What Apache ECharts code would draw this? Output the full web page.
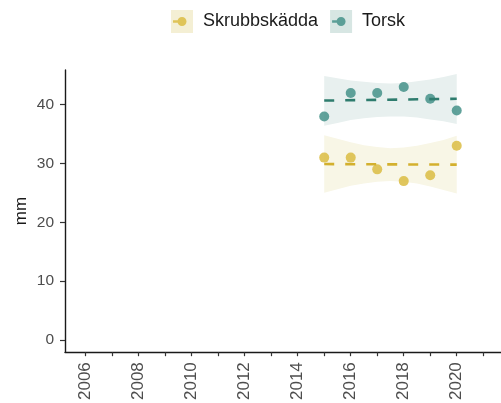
<!DOCTYPE html>
<html>
<head>
<meta charset="utf-8">
<script src="https://cdn.jsdelivr.net/npm/echarts@6/dist/echarts.min.js"></script>
<style>
  html, body { margin: 0; padding: 0; background: #fff; }
  #chart { width: 501px; height: 403px; }
</style>
</head>
<body>
<div id="chart"></div>
<script>
// observed yearly means
var years = [2015, 2016, 2017, 2018, 2019, 2020];
var torsk = [38, 42, 42, 43, 41, 39];
var skrubb = [31, 31, 29, 27, 28, 33];

// fitted trend (dashed), read at the two ends
var trendYears = [2015, 2020];
var torskTrend = [40.7, 41.0];
var skrubbTrend = [29.9, 29.8];

// confidence ribbons, read every half year
var bandYears = [2015, 2015.5, 2016, 2016.5, 2017, 2017.5, 2018, 2018.5, 2019, 2019.5, 2020];
var torskUpper = [44.9, 44.5, 44.1, 43.9, 43.7, 43.6, 43.7, 44.0, 44.3, 44.7, 45.2];
var torskLower = [36.4, 36.9, 37.4, 37.7, 37.9, 38.0, 38.0, 37.8, 37.5, 37.2, 36.7];
var skrubbUpper = [34.8, 34.2, 33.6, 33.1, 32.8, 32.6, 32.7, 33.0, 33.5, 34.0, 34.7];
var skrubbLower = [25.0, 25.6, 26.2, 26.6, 26.9, 27.0, 26.9, 26.6, 26.1, 25.5, 24.9];

// axis ticks / labels
var xTicks = [2006, 2007, 2008, 2009, 2010, 2011, 2012, 2013, 2014, 2015, 2016, 2017, 2018, 2019, 2020, 2021];
var xLabels = [2006, 2008, 2010, 2012, 2014, 2016, 2018, 2020];
var yTicks = [0, 10, 20, 30, 40];

var colors = {
  torsk: '#45928a', torskLine: '#2e7c6e', torskBand: '#e8f0ef', torskKey: '#d7e6e3',
  skrubb: '#dbbc42', skrubbLine: '#d3b02e', skrubbBand: '#f8f6e6', skrubbKey: '#f4efd4'
};

function pairs(xs, ys) {
  return xs.map(function(x, i) { return [x, ys[i]]; });
}

function bandSeries(name, upper, lower, fill) {
  return {
    name: name + ' band',
    type: 'custom',
    silent: true,
    z: 1,
    data: [[bandYears[0], upper[0]]],
    renderItem: function(params, api) {
      var pts = [];
      bandYears.forEach(function(x, i) { pts.push(api.coord([x, upper[i]])); });
      for (var i = bandYears.length - 1; i >= 0; i--) pts.push(api.coord([bandYears[i], lower[i]]));
      return { type: 'polygon', shape: { points: pts }, style: { fill: fill } };
    }
  };
}

function pointSeries(name, ys, color) {
  return {
    name: name,
    type: 'scatter',
    z: 3,
    symbolSize: 10,
    itemStyle: { color: color, opacity: 0.85 },
    data: pairs(years, ys)
  };
}

function trendSeries(name, ys, color) {
  return {
    name: name + ' trend',
    type: 'line',
    z: 4,
    symbol: 'none',
    silent: true,
    lineStyle: { color: color, width: 2.6, type: [10, 11] },
    data: pairs(trendYears, ys)
  };
}

// legend glyph: dash + dot inside a 22x23 box
var keyIcon = 'path://M0 0M22 23M2 10.3H11V12.7H2Z' +
  'M15.5 11.5C15.5 14 13.5 16 11 16C8.5 16 6.5 14 6.5 11.5C6.5 9 8.5 7 11 7C13.5 7 15.5 9 15.5 11.5Z';

var legendBase = {
  left: 171,
  top: 10,
  padding: 0,
  orient: 'horizontal',
  itemWidth: 22,
  itemHeight: 23,
  itemGap: 12,
  selectedMode: false,
  textStyle: { fontSize: 18, color: '#1a1a1a', fontFamily: 'Liberation Sans, Arial', padding: [0, 0, 0, 5] }
};

var chart = echarts.init(document.getElementById('chart'), null, { renderer: 'canvas' });

chart.setOption({
  animation: false,
  backgroundColor: '#fff',
  textStyle: { fontFamily: 'Liberation Sans, Arial' },
  legend: [
    Object.assign({}, legendBase, {
      data: [
        { name: 'Skrubbskädda', icon: 'rect', itemStyle: { color: colors.skrubbKey, opacity: 1 } },
        { name: 'Torsk', icon: 'rect', itemStyle: { color: colors.torskKey, opacity: 1 } }
      ]
    }),
    Object.assign({}, legendBase, {
      textStyle: Object.assign({}, legendBase.textStyle, { color: 'rgba(0,0,0,0)' }),
      data: [
        { name: 'Skrubbskädda', icon: keyIcon, itemStyle: { color: colors.skrubb } },
        { name: 'Torsk', icon: keyIcon, itemStyle: { color: colors.torsk } }
      ]
    })
  ],
  grid: { left: 65, right: 0, top: 70, bottom: 49, containLabel: false },
  xAxis: {
    type: 'value',
    min: 2005.22,
    max: 2021.67,
    splitLine: { show: false },
    axisLine: { show: true, onZero: false, lineStyle: { color: '#1a1a1a', width: 1.4 } },
    axisTick: { show: true, length: 4, customValues: xTicks, lineStyle: { color: '#333', width: 1.2 } },
    axisLabel: {
      customValues: xLabels,
      rotate: 90,
      margin: 10,
      fontSize: 17,
      color: '#4d4d4d',
      formatter: function(v) { return String(v); }
    }
  },
  yAxis: {
    type: 'value',
    min: -2.1,
    max: 45.9,
    name: 'mm',
    nameLocation: 'middle',
    nameGap: 35,
    nameMoveOverlap: false,
    nameTextStyle: { fontSize: 17, color: '#1a1a1a' },
    splitLine: { show: false },
    axisLine: { show: true, onZero: false, lineStyle: { color: '#1a1a1a', width: 1.4 } },
    axisTick: { show: true, length: 5, customValues: yTicks, lineStyle: { color: '#333', width: 1.2 } },
    axisLabel: { customValues: yTicks, margin: 11, fontSize: 15.5, color: '#4d4d4d' }
  },
  series: [
    bandSeries('Torsk', torskUpper, torskLower, colors.torskBand),
    bandSeries('Skrubbskädda', skrubbUpper, skrubbLower, colors.skrubbBand),
    pointSeries('Skrubbskädda', skrubb, colors.skrubb),
    pointSeries('Torsk', torsk, colors.torsk),
    trendSeries('Skrubbskädda', skrubbTrend, colors.skrubbLine),
    trendSeries('Torsk', torskTrend, colors.torskLine)
  ]
});
</script>
</body>
</html>
